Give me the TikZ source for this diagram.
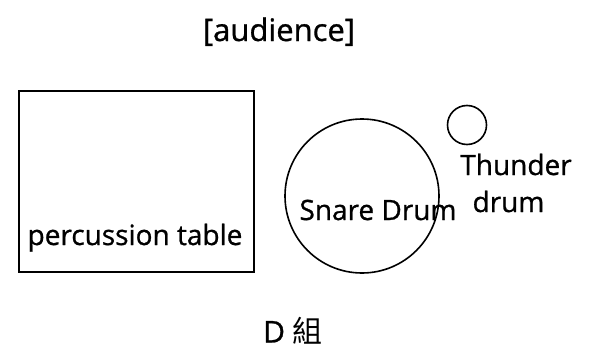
\documentclass[tikz,border=0pt]{standalone}
\usepackage{fontspec}
\setmainfont[FakeBold=0.9]{Open Sans}
\newfontfamily\cjk{Noto Sans CJK TC}
\begin{document}
\begin{tikzpicture}[x=1pt,y=1pt,
  outl/.style={draw=black,line width=1.6pt},
  lbl/.style={inner sep=0pt,anchor=base,font=\fontsize{28}{32}\selectfont}]
\useasboundingbox (0,0) rectangle (589,349);
\node[outl,rectangle,minimum width=235pt,minimum height=181pt,inner sep=0pt] (table) at (136.5,167.5) {};
\node[outl,circle,minimum size=154pt,inner sep=0pt] (snare) at (362,153) {};
\node[outl,circle,minimum size=39pt,inner sep=0pt] (thunder) at (467,224) {};
\node[lbl,font=\fontsize{31}{34}\selectfont] (aud) at (279,308) {[audience]};
\node[lbl] (pt) at (135,104) {percussion table};
\node[lbl] (sd) at (378,129) {Snare Drum};
\node[lbl] (th) at (516,174) {Thunder};
\node[lbl] (dr) at (508.5,137) {drum};
\node[lbl,font=\fontsize{30}{34}\selectfont] (grp) at (293,6.5) {D {\cjk 組}};
\end{tikzpicture}
\end{document}
